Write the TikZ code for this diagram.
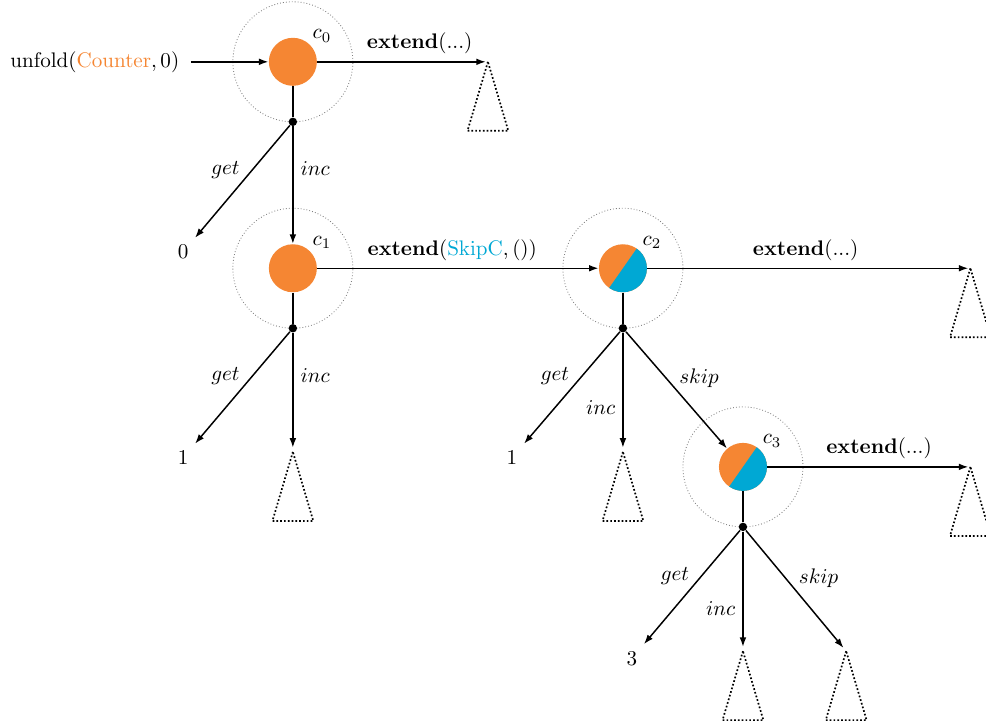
\documentclass[tikz,border=0pt]{standalone}
\usetikzlibrary{arrows.meta}
\definecolor{cntorange}{RGB}{245,134,51}
\definecolor{skipblue}{RGB}{0,168,212}

\begin{document}
\begin{tikzpicture}[
  state/.style={circle, fill=cntorange, minimum size=0.8cm, inner sep=0pt},
  mixed/.style={state, path picture={\fill[skipblue] (path picture bounding box.center) ++(55:1) -- ++(-35:1) -- ++(235:2) -- ++(145:1) -- cycle;}},
  halo/.style={gray, densely dotted},
  fork/.style={circle, fill=black, minimum size=4pt, inner sep=0pt},
  link/.style={line width=0.7pt},
  arr/.style={link, -{Latex[length=4.5pt, width=3.2pt]}},
  tight/.style={inner sep=1pt},
  subtree/.style={densely dotted, thick}
]
\useasboundingbox (0,0) rectangle (16.43,-12.1);

% states
\node[state, label={[tight]45:$c_0$}] (c0) at (4.88,-1.03) {};
\node[state, label={[tight]45:$c_1$}] (c1) at (4.88,-4.47) {};
\node[mixed, label={[tight]45:$c_2$}] (c2) at (10.38,-4.47) {};
\node[mixed, label={[tight]45:$c_3$}] (c3) at (12.38,-7.78) {};
\draw[halo] (c0) circle[radius=1cm];
\draw[halo] (c1) circle[radius=1cm];
\draw[halo] (c2) circle[radius=1cm];
\draw[halo] (c3) circle[radius=1cm];

% branching points
\node[fork] (b0) at (4.88,-2.03) {};
\node[fork] (b1) at (4.88,-5.47) {};
\node[fork] (b2) at (10.38,-5.47) {};
\node[fork] (b3) at (12.38,-8.78) {};

% results of get
\node (v0) at (3.05,-4.2) {$0$};
\node (v1) at (3.05,-7.63) {$1$};
\node (v2) at (8.53,-7.63) {$1$};
\node (v3) at (10.53,-10.97) {$3$};

% unexplored subtrees
\coordinate (t0) at (8.13,-1.03);
\coordinate (t1) at (4.88,-7.53);
\coordinate (t2) at (16.17,-4.47);
\coordinate (t3) at (10.38,-7.53);
\coordinate (t4) at (16.17,-7.78);
\coordinate (t5) at (12.38,-10.85);
\coordinate (t6) at (14.1,-10.85);
\foreach \t in {t0,t1,t2,t3,t4,t5,t6}
  \draw[subtree] (\t) -- ++(-0.34,-1.15) -- ++(0.68,0) -- cycle;

\node (unf) at (1.58,-1.03) {unfold$(\textcolor{cntorange}{\mathrm{Counter}}, 0)$};
\draw[arr, shorten <=2pt] (unf) -- (c0);

% c0
\draw[link] (c0) -- (b0);
\draw[arr, shorten >=1pt] (c0) -- (t0) node[pos=0.6, above] (x0) {\textbf{extend}(...)};
\draw[arr] (b0) -- (v0) node[midway, above left, tight] (g0) {$get$};
\draw[arr] (b0) -- (c1) node[pos=0.36, right] (i0) {$inc$};

% c1
\draw[link] (c1) -- (b1);
\draw[arr] (c1) -- (c2) node[pos=0.48, above] (x1) {\textbf{extend}$(\textcolor{skipblue}{\mathrm{SkipC}}, ())$};
\draw[arr] (b1) -- (v1) node[midway, above left, tight] (g1) {$get$};
\draw[arr, shorten >=2pt] (b1) -- (t1) node[pos=0.36, right] (i1) {$inc$};

% c2
\draw[link] (c2) -- (b2);
\draw[arr, shorten >=1pt] (c2) -- (t2) node[pos=0.49, above] (x2) {\textbf{extend}(...)};
\draw[arr] (b2) -- (v2) node[midway, above left, tight] (g2) {$get$};
\draw[arr, shorten >=2pt] (b2) -- (t3) node[pos=0.63, left] (i2) {$inc$};
\draw[arr] (b2) -- (c3) node[midway, above right, tight] (s2) {$skip$};

% c3
\draw[link] (c3) -- (b3);
\draw[arr, shorten >=1pt] (c3) -- (t4) node[pos=0.55, above] (x3) {\textbf{extend}(...)};
\draw[arr] (b3) -- (v3) node[midway, above left, tight] (g3) {$get$};
\draw[arr, shorten >=2pt] (b3) -- (t5) node[pos=0.64, left] (i3) {$inc$};
\draw[arr, shorten >=2pt] (b3) -- (t6) node[midway, above right, tight] (s3) {$skip$};
\end{tikzpicture}
\end{document}
